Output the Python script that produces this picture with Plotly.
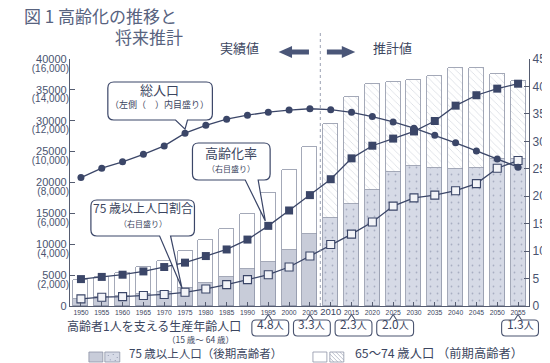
import plotly.graph_objects as go

# ---------------- data ----------------
years = [1950, 1955, 1960, 1965, 1970, 1975, 1980, 1985, 1990, 1995, 2000, 2005,
         2010, 2015, 2020, 2025, 2030, 2035, 2040, 2045, 2050, 2055]
n_actual = 12  # 1950-2005 実績値, 2010- 推計値
total_pop = [8320, 8928, 9342, 9828, 10372, 11194, 11706, 12105, 12361, 12557, 12693, 12777,
             12718, 12543, 12273, 11927, 11522, 11068, 10570, 10044, 9515, 8993]  # 万人
aged65 = [4155, 4747, 5350, 6236, 7331, 8865, 10647, 12468, 14895, 18261, 22005, 25672,
          29412, 33781, 35899, 36354, 36670, 37249, 38527, 38559, 37641, 36463]  # 千人
aged75 = [1069, 1388, 1637, 1894, 2237, 2841, 3660, 4712, 5973, 7170, 9003, 11602,
          14222, 16452, 18737, 21667, 22659, 22352, 22230, 22370, 23846, 23866]  # 千人
aging_rate = [4.9, 5.3, 5.7, 6.3, 7.1, 7.9, 9.1, 10.3, 12.1, 14.6, 17.4, 20.2,
              23.1, 26.9, 29.2, 30.5, 31.8, 33.7, 36.5, 38.4, 39.6, 40.5]
rate75 = [1.3, 1.6, 1.7, 1.9, 2.1, 2.5, 3.1, 3.9, 4.8, 5.7, 7.1, 9.1,
          11.2, 13.1, 15.3, 18.2, 19.7, 20.2, 21.0, 22.3, 25.1, 26.5]
ratio_years = [1995, 2005, 2015, 2025, 2055]
ratio_labels = ["4.8", "3.3", "2.3", "2.0", "1.3"]
left_ticks = [0, 5000, 10000, 15000, 20000, 25000, 30000, 35000, 40000]
left_sub_ticks = [2000, 4000, 6000, 8000, 10000, 12000, 14000, 16000]
right_ticks = [0, 5, 10, 15, 20, 25, 30, 35, 40, 45]

aged65_74 = [a - b for a, b in zip(aged65, aged75)]

# ---------------- geometry ----------------
W_FIG, H_FIG = 550, 363
L, R, T, B = 62, 523, 51, 298
W, H = R - L, B - T
X0, X1 = 1947.37, 2057.63

NAVY = "#3b4668"
TXT = "#3c4660"
FONT_JP = "Noto Sans CJK JP"
FONT_NUM = "Liberation Sans"


def P(x, y):
    return f"{(x - L) / W:.5f},{(B - y) / H:.5f}"


def xpix(year):
    return L + (year - X0) / (X1 - X0) * W


def ypix_pop(v):
    return B - v / 16000 * H


def ypix_r(v):
    return B - v / 45 * H


def rounded_path(x0, y0, x1, y1, r, bottom_tail=None, top_tail=None):
    s = ["M" + P(x0 + r, y0)]
    if top_tail:
        cx, hw, tipy = top_tail
        s += ["L" + P(cx - hw, y0), "L" + P(cx, tipy), "L" + P(cx + hw, y0)]
    s += ["L" + P(x1 - r, y0), "Q" + P(x1, y0) + " " + P(x1, y0 + r),
          "L" + P(x1, y1 - r), "Q" + P(x1, y1) + " " + P(x1 - r, y1)]
    if bottom_tail:
        bx0, bx1, tx, ty = bottom_tail
        s += ["L" + P(bx1, y1), "L" + P(tx, ty), "L" + P(bx0, y1)]
    s += ["L" + P(x0 + r, y1), "Q" + P(x0, y1) + " " + P(x0, y1 - r),
          "L" + P(x0, y0 + r), "Q" + P(x0, y0) + " " + P(x0 + r, y0), "Z"]
    return " ".join(s)


shapes = []
annotations = []


def ann(text, x, y, size, color=TXT, xanchor="center", family=FONT_JP):
    y = y - 0.36 * size  # compensate CJK line-box offset
    annotations.append(dict(text=text, x=(x - L) / W, y=(B - y) / H, xref="paper", yref="paper",
                            showarrow=False, xanchor=xanchor, yanchor="middle",
                            borderpad=0,
                            font=dict(family=family, size=size, color=color)))


def path_shape(path, fill="white", line=NAVY, lw=1.2):
    shapes.append(dict(type="path", path=path, xref="paper", yref="paper",
                       fillcolor=fill, line=dict(color=line, width=lw), layer="above"))


# ---------------- traces ----------------
fig = go.Figure()
bar_w = 3.6
bar_line = dict(color="#8d93a6", width=0.8)
fig.add_trace(go.Bar(x=years[:n_actual], y=aged75[:n_actual], width=bar_w,
                     marker=dict(color="#c8ccd9", line=bar_line), showlegend=False))
fig.add_trace(go.Bar(x=years[:n_actual], y=aged65_74[:n_actual], width=bar_w,
                     marker=dict(color="white", line=bar_line), showlegend=False))
fig.add_trace(go.Bar(x=years[n_actual:], y=aged75[n_actual:], width=bar_w,
                     marker=dict(color="#d6dae6", line=bar_line,
                                 pattern=dict(shape=".", bgcolor="#d6dae6", fgcolor="#7a829d",
                                              size=7, solidity=0.05)),
                     showlegend=False))
fig.add_trace(go.Bar(x=years[n_actual:], y=aged65_74[n_actual:], width=bar_w,
                     marker=dict(color="white", line=bar_line,
                                 pattern=dict(shape="\\", bgcolor="white", fgcolor="#aab0c0",
                                              size=5, solidity=0.14)),
                     showlegend=False))

fig.add_trace(go.Scatter(x=years, y=total_pop, yaxis="y3", mode="lines+markers",
                         line=dict(color=NAVY, width=1.3),
                         marker=dict(symbol="circle", size=7, color=NAVY), showlegend=False))
fig.add_trace(go.Scatter(x=years, y=aging_rate, yaxis="y2", mode="lines+markers",
                         line=dict(color=NAVY, width=1.3),
                         marker=dict(symbol="square", size=8, color=NAVY), showlegend=False))
fig.add_trace(go.Scatter(x=years, y=rate75, yaxis="y2", mode="lines+markers",
                         line=dict(color=NAVY, width=1.3),
                         marker=dict(symbol="square", size=8, color="#f3f4f8",
                                     line=dict(color=NAVY, width=1.1)), showlegend=False))

# ---------------- decorations ----------------
# dashed divider between 実績値 and 推計値
shapes.append(dict(type="line", xref="x", yref="paper", x0=2007.5, x1=2007.5, y0=0,
                   y1=(B - 22) / H, line=dict(color="#9aa0b2", width=1, dash="3px,3px"),
                   layer="above"))

# arrows
shapes.append(dict(type="path", xref="paper", yref="paper", fillcolor="#4a5678",
                   line=dict(width=0), layer="above",
                   path=" ".join(["M" + P(271.5, 44), "L" + P(285, 38), "L" + P(285, 41.5),
                                  "L" + P(302, 41.5), "L" + P(302, 46.5), "L" + P(285, 46.5),
                                  "L" + P(285, 50), "Z"])))
shapes.append(dict(type="path", xref="paper", yref="paper", fillcolor="#4a5678",
                   line=dict(width=0), layer="above",
                   path=" ".join(["M" + P(348.5, 44), "L" + P(335, 38), "L" + P(335, 41.5),
                                  "L" + P(320, 41.5), "L" + P(320, 46.5), "L" + P(335, 46.5),
                                  "L" + P(335, 50), "Z"])))
ann("実績値", 232, 44, 13)
ann("推計値", 365, 44, 13, xanchor="left")

# callouts
path_shape(rounded_path(100, 74, 205, 112, 6,
                        bottom_tail=(168, 180, xpix(1975), ypix_pop(total_pop[5]) - 4)))
ann("総人口", 152, 86, 13)
ann("（左側（　）内目盛り）", 152, 100, 9)

path_shape(rounded_path(185, 135, 263, 172, 6,
                        bottom_tail=(238, 251, xpix(1995) - 3, ypix_r(aging_rate[9]) - 5)))
ann("高齢化率", 224, 149, 13)
ann("（右目盛り）", 224, 163, 8)

path_shape(rounded_path(83, 192, 187, 228, 6,
                        bottom_tail=(152, 163, xpix(1975) - 3, ypix_r(rate75[5]) - 4)))
ann("75 歳以上人口割合", 135, 204, 12)
ann("（右目盛り）", 135, 218, 8)

# title
ann("図 1 高齢化の推移と", 15, 14, 17, color="#58637f", xanchor="left")
ann("将来推計", 176, 35, 17, color="#58637f", xanchor="right")

# support ratio row
ann("高齢者1人を支える生産年齢人口", 146, 322, 12)
ann("（15 歳～ 64 歳）", 193, 334, 8.5)
for yr, lab in zip(ratio_years, ratio_labels):
    cx = xpix(yr)
    bx = cx + 2
    path_shape(rounded_path(bx - 18.5, 312, bx + 18.5, 328, 4, top_tail=(cx, 3.5, 306.5)),
               fill="white", line="#4a5470", lw=1.1)
    ann(lab + "<span style='font-size:10px'>人</span>", bx, 320, 12)

# custom legend
def rect(x0, y0, x1, y1, fill, line="#8d93a6"):
    shapes.append(dict(type="rect", xref="paper", yref="paper", x0=(x0 - L) / W, x1=(x1 - L) / W,
                       y0=(B - y1) / H, y1=(B - y0) / H, fillcolor=fill,
                       line=dict(color=line, width=0.8), layer="above"))

LEG_Y = 349
rect(81, LEG_Y - 5, 95, LEG_Y + 5, "#c8ccd9")
rect(97, LEG_Y - 5, 112, LEG_Y + 5, "#d6dae6")
for dx, dy in [(100, -2), (105, -3), (109, 0), (102, 2.5), (107, 3)]:
    shapes.append(dict(type="rect", xref="paper", yref="paper", x0=(dx - L) / W, x1=(dx + 0.8 - L) / W,
                       y0=(B - LEG_Y - dy - 0.8) / H, y1=(B - LEG_Y - dy) / H, fillcolor="#6a7391",
                       line=dict(width=0), layer="above"))
ann("75 歳以上人口（後期高齢者）", 120, LEG_Y, 11.5, xanchor="left")
rect(306, LEG_Y - 5, 320, LEG_Y + 5, "white")
rect(323, LEG_Y - 5, 337, LEG_Y + 5, "white")
hx0, hx1, hy0, hy1 = 323, 337, LEG_Y - 5, LEG_Y + 5
for xs in range(hx0 - 10, hx1, 4):
    t0 = max(0, hx0 - xs)
    t1 = min(hy1 - hy0, hx1 - xs)
    if t1 > t0:
        shapes.append(dict(type="line", xref="paper", yref="paper",
                           x0=(xs + t0 - L) / W, y0=(B - (hy0 + t0)) / H,
                           x1=(xs + t1 - L) / W, y1=(B - (hy0 + t1)) / H,
                           line=dict(color="#a0a6b8", width=0.7), layer="above"))
ann("65～74 歳人口 （前期高齢者）", 347, LEG_Y, 12.3, xanchor="left")

# ---------------- layout ----------------
xtext = [("<span style='font-size:9.5px'>%d</span>" % y) if y == 2010 else str(y) for y in years]
axis_line = "#555c70"
fig.update_layout(
    width=W_FIG, height=H_FIG,
    margin=dict(l=L, r=W_FIG - R, t=T, b=H_FIG - B),
    paper_bgcolor="white", plot_bgcolor="white",
    barmode="stack", bargap=0,
    showlegend=False,
    xaxis=dict(range=[X0, X1], tickvals=years, ticktext=xtext, tickangle=0, showgrid=False,
               zeroline=False, showline=True, linecolor=axis_line, linewidth=1.2, ticks="inside",
               ticklen=4, tickcolor=axis_line,
               tickfont=dict(family=FONT_NUM, size=6.8, color=TXT)),
    yaxis=dict(range=[0, 40000], tickvals=left_ticks, ticktext=[str(v) for v in left_ticks],
               showgrid=False, zeroline=False, showline=True, linecolor=axis_line, linewidth=1.2,
               ticks="inside", ticklen=5, tickcolor=axis_line, ticklabelshift=0,
               tickfont=dict(family=FONT_NUM, size=11, color="#4a5470")),
    yaxis3=dict(range=[0, 16000], overlaying="y", side="left", tickvals=left_sub_ticks,
                ticktext=["({:,})".format(v) for v in left_sub_ticks], showgrid=False,
                zeroline=False, showline=False, ticks="", ticklabelshift=9,
                tickfont=dict(family=FONT_NUM, size=10, color="#4a5470")),
    yaxis2=dict(range=[0, 45], overlaying="y", side="right", tickvals=right_ticks,
                showgrid=False, zeroline=False, showline=True, linecolor=axis_line, linewidth=1.2,
                ticks="inside", ticklen=5, tickcolor=axis_line,
                tickfont=dict(family=FONT_NUM, size=12, color="#4a5470")),
    shapes=shapes,
    annotations=annotations,
)

fig.write_html("out.html")
